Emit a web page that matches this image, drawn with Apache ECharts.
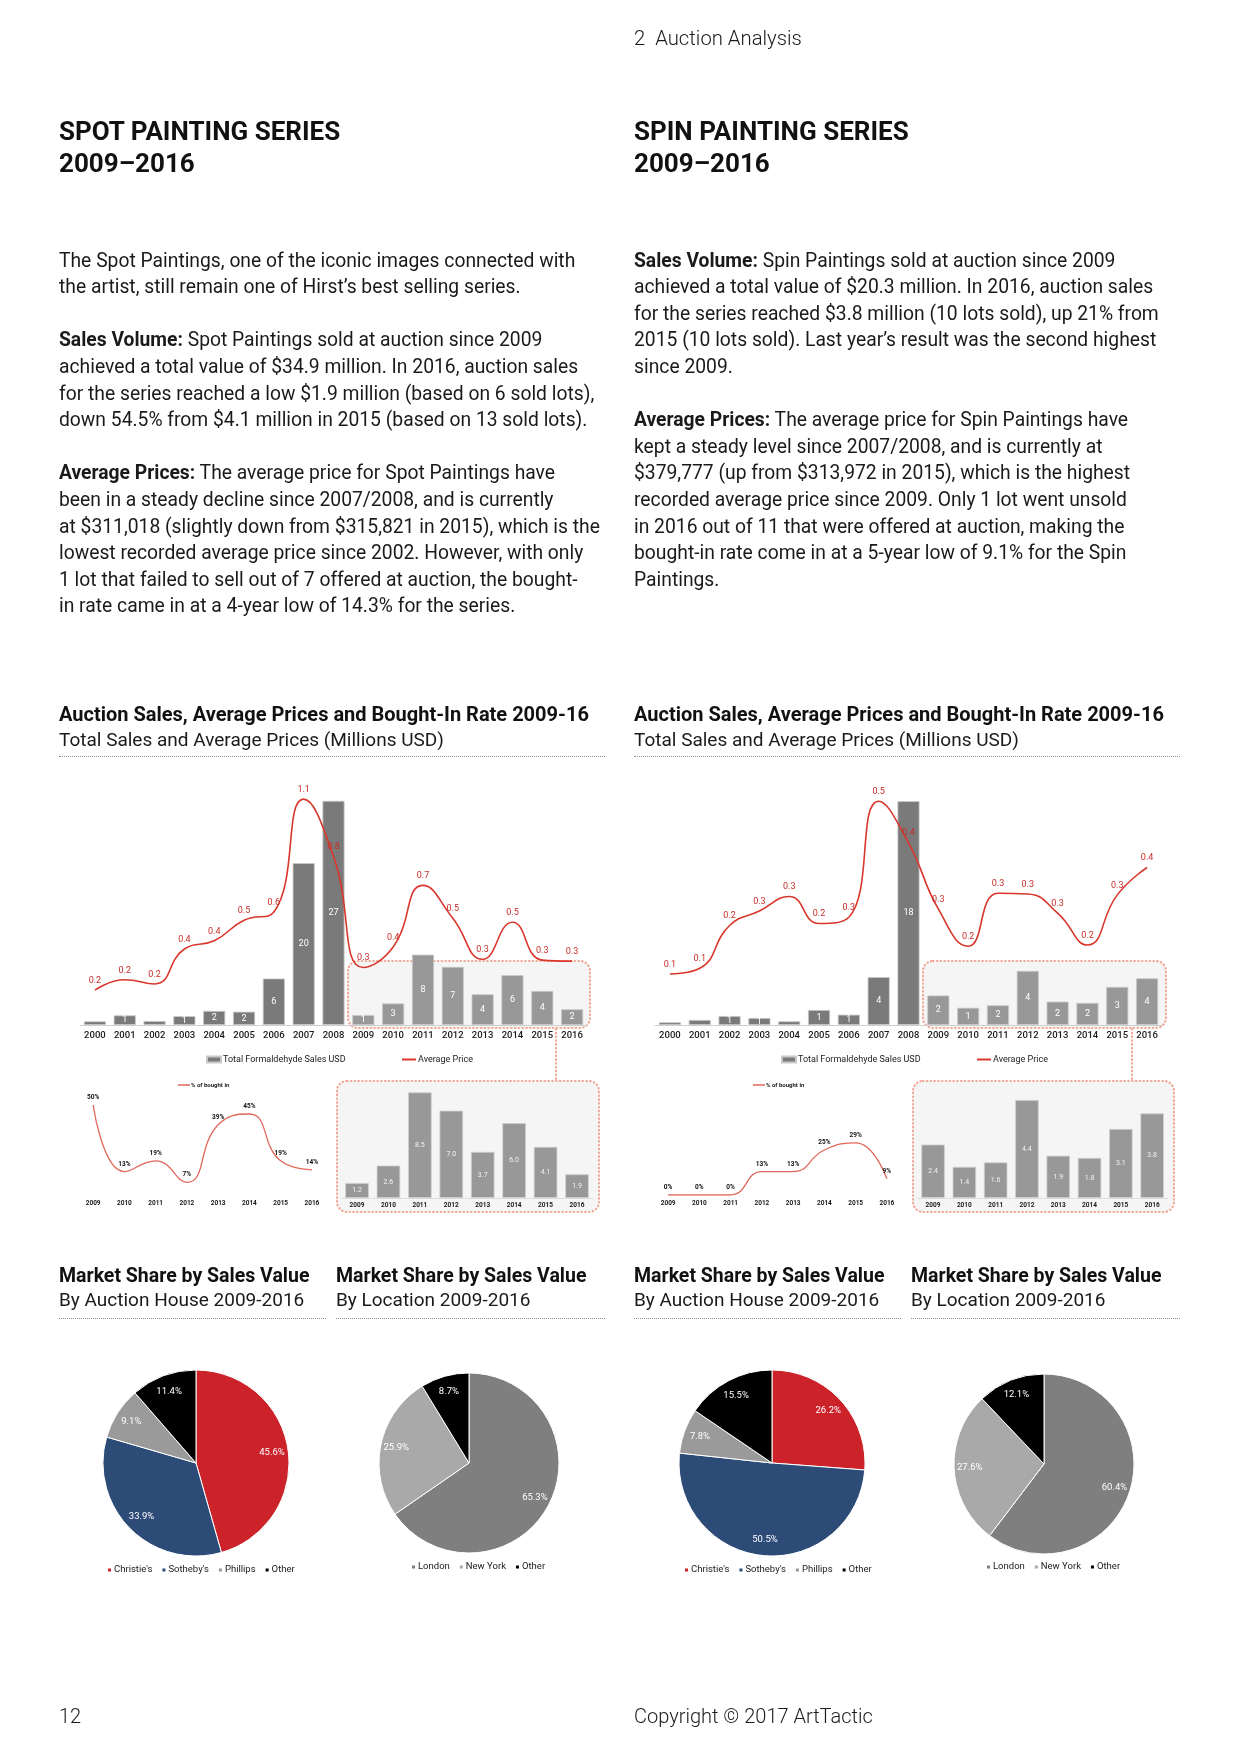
<!DOCTYPE html>
<html><head><meta charset="utf-8">
<script src="https://cdn.jsdelivr.net/npm/echarts@6/dist/echarts.min.js"></script>
<style>
html,body{margin:0;padding:0;background:#fff;}
#page{position:relative;width:1241px;height:1754px;overflow:hidden;}
#chart{position:absolute;left:0;top:0;width:1241px;height:1754px;}
.t{position:absolute;white-space:nowrap;font-family:Roboto,'Noto Sans',sans-serif;color:#1a1a1a;z-index:5;}
.para{font-size:19.3px;line-height:26.6px;}
.para b{font-weight:700;}
.h1{font-size:26px;line-height:32px;font-weight:700;color:#111;}
.h2{font-size:20px;line-height:24px;font-weight:700;color:#111;}
.h2p{font-size:19.5px;line-height:24px;font-weight:700;color:#111;}
.h3{font-size:19px;line-height:24px;font-weight:400;}
.dot{position:absolute;height:0;border-top:1.5px dotted #8c8c8c;z-index:5;}
</style></head>
<body><div id="page">
<div id="chart"></div>
<div class="t" style="left:634px;top:26px;font-size:20.3px;line-height:24px;font-weight:300;">2&nbsp;&nbsp;Auction Analysis</div>
<div class="t h1" style="left:59px;top:115px;">SPOT PAINTING SERIES<br>2009–2016</div>
<div class="t h1" style="left:634px;top:115px;">SPIN PAINTING SERIES<br>2009–2016</div>
<div class="t para" style="left:59px;top:247.7px;">The Spot Paintings, one of the iconic images connected with<br>the artist, still remain one of Hirst’s best selling series.<br>&nbsp;<br><b>Sales Volume:</b> Spot Paintings sold at auction since 2009<br>achieved a total value of $34.9 million. In 2016, auction sales<br>for the series reached a low $1.9 million (based on 6 sold lots),<br>down 54.5% from $4.1 million in 2015 (based on 13 sold lots).<br>&nbsp;<br><b>Average Prices:</b> The average price for Spot Paintings have<br>been in a steady decline since 2007/2008, and is currently<br>at $311,018 (slightly down from $315,821 in 2015), which is the<br>lowest recorded average price since 2002. However, with only<br>1 lot that failed to sell out of 7 offered at auction, the bought-<br>in rate came in at a 4-year low of 14.3% for the series.</div>
<div class="t para" style="left:634px;top:247.7px;"><b>Sales Volume:</b> Spin Paintings sold at auction since 2009<br>achieved a total value of $20.3 million. In 2016, auction sales<br>for the series reached $3.8 million (10 lots sold), up 21% from<br>2015 (10 lots sold). Last year’s result was the second highest<br>since 2009.<br>&nbsp;<br><b>Average Prices:</b> The average price for Spin Paintings have<br>kept a steady level since 2007/2008, and is currently at<br>$379,777 (up from $313,972 in 2015), which is the highest<br>recorded average price since 2009. Only 1 lot went unsold<br>in 2016 out of 11 that were offered at auction, making the<br>bought-in rate come in at a 5-year low of 9.1% for the Spin<br>Paintings.</div>

<div class="t h2" style="left:59px;top:702px;">Auction Sales, Average Prices and Bought-In Rate 2009-16</div>
<div class="t h3" style="left:59px;top:728px;">Total Sales and Average Prices (Millions USD)</div>
<div class="dot" style="left:59px;top:756px;width:546px;"></div>
<div class="t h2" style="left:634px;top:702px;">Auction Sales, Average Prices and Bought-In Rate 2009-16</div>
<div class="t h3" style="left:634px;top:728px;">Total Sales and Average Prices (Millions USD)</div>
<div class="dot" style="left:634px;top:756px;width:546px;"></div>

<div class="t h2p" style="left:59px;top:1264px;">Market Share by Sales Value</div>
<div class="t h3" style="left:59px;top:1288px;">By Auction House 2009-2016</div>
<div class="dot" style="left:59px;top:1318px;width:267px;"></div>
<div class="t h2p" style="left:336px;top:1264px;">Market Share by Sales Value</div>
<div class="t h3" style="left:336px;top:1288px;">By Location 2009-2016</div>
<div class="dot" style="left:336px;top:1318px;width:269px;"></div>
<div class="t h2p" style="left:634px;top:1264px;">Market Share by Sales Value</div>
<div class="t h3" style="left:634px;top:1288px;">By Auction House 2009-2016</div>
<div class="dot" style="left:634px;top:1318px;width:267px;"></div>
<div class="t h2p" style="left:911px;top:1264px;">Market Share by Sales Value</div>
<div class="t h3" style="left:911px;top:1288px;">By Location 2009-2016</div>
<div class="dot" style="left:911px;top:1318px;width:269px;"></div>

<div class="t" style="left:59px;top:1704px;font-size:20px;line-height:24px;font-weight:300;">12</div>
<div class="t" style="left:634px;top:1704px;font-size:20px;line-height:24px;font-weight:300;">Copyright © 2017 ArtTactic</div>
</div>
<script>
// ---- data ----
const years = ['2000','2001','2002','2003','2004','2005','2006','2007','2008','2009','2010','2011','2012','2013','2014','2015','2016'];
const recentYears = ['2009','2010','2011','2012','2013','2014','2015','2016'];
const spotSales = [0.44,1.16,0.48,1.07,1.7,1.6,5.6,19.5,27,1.2,2.6,8.47,7.0,3.7,6.0,4.1,1.9];
const spotAvgPrice = [0.17,0.22,0.2,0.37,0.41,0.51,0.55,1.1,0.82,0.28,0.38,0.68,0.52,0.32,0.5,0.316,0.311];
const spotBoughtIn = [50,13,19,7,39,45,19,14];
const spinSales = [0.22,0.41,0.73,0.57,0.3,1.22,0.84,3.9,18.2,2.4,1.4,1.6,4.4,1.9,1.8,3.1,3.8];
const spinAvgPrice = [0.123,0.137,0.24,0.275,0.31,0.245,0.26,0.54,0.44,0.28,0.19,0.318,0.316,0.27,0.193,0.314,0.38];
const spinBoughtIn = [0,0,0,13,13,25,29,9];
const houses = ["Christie's","Sotheby's","Phillips","Other"];
const spotHouseShare = [45.6,33.9,9.1,11.4];
const spinHouseShare = [26.2,50.5,7.8,15.5];
const locations = ['London','New York','Other'];
const spotLocationShare = [65.3,25.9,8.7];
const spinLocationShare = [60.4,27.6,12.1];
const firstRecent = years.indexOf('2009');

// ---- styles ----
const FONT = 'Roboto, "Noto Sans", sans-serif';
const houseColors = ['#cc2229','#2c4b77','#9a9a9a','#000000'];
const locationColors = ['#7f7f7f','#a9a9a9','#000000'];
const RED = '#d9362c';
const BOX = '#f3a896';

const chart = echarts.init(document.getElementById('chart'), null, {renderer:'canvas'});

function comboX(gi){
  return {type:'category', gridIndex:gi, data:years, boundaryGap:true,
    axisTick:{show:false}, axisLine:{show:true, lineStyle:{color:'#d0d0d0', width:1}},
    axisLabel:{color:'#1a1a1a', fontSize:9.5, fontWeight:500, margin:6, interval:0, fontFamily:FONT}};
}
function smallX(gi, line, margin){
  return {type:'category', gridIndex:gi, data:recentYears, boundaryGap:true,
    axisTick:{show:false}, axisLine:{show:line, lineStyle:{color:'#dedede'}},
    axisLabel:{color:'#1a1a1a', fontSize:6.5, fontWeight:700, margin:margin, interval:0, fontFamily:FONT}};
}
function hiddenY(gi, max){ return {type:'value', gridIndex:gi, min:0, max:max, show:false, splitLine:{show:false}}; }

function salesBars(gi, yi, vals){
  return {type:'bar', name:'Total Formaldehyde Sales USD', xAxisIndex:gi, yAxisIndex:yi,
    data: vals.map((v,i)=> i>=firstRecent ? {value:v, itemStyle:{color:'#989898'}} : v),
    barCategoryGap:'26%', itemStyle:{color:'#7a7a7a', borderColor:'#c9c9c9', borderWidth:0.8},
    label:{show:true, position:'inside', color:'#ffffff', fontSize:9, fontFamily:FONT,
      formatter:p=> Math.round(p.value)>=1 ? String(Math.round(p.value)) : ''},
    emphasis:{disabled:true}, z:2};
}
function priceLine(gi, yi, vals){
  return {type:'line', name:'Average Price', xAxisIndex:gi, yAxisIndex:yi, data:vals, smooth:0.5,
    symbol:'circle', symbolSize:0.1, showSymbol:true, showAllSymbol:true,
    lineStyle:{color:RED, width:1.6}, itemStyle:{color:RED},
    label:{show:true, position:'top', distance:5, color:'#c62d28', fontSize:9, fontFamily:FONT,
      formatter:p=> p.value.toFixed(1)},
    emphasis:{disabled:true}, z:4};
}
function boughtLine(gi, yi, vals){
  return {type:'line', name:'% of bought in', xAxisIndex:gi, yAxisIndex:yi, data:vals, smooth:0.5,
    symbol:'circle', symbolSize:0.1, showSymbol:true, showAllSymbol:true,
    lineStyle:{color:'#e0675a', width:1.3}, itemStyle:{color:'#e0675a'},
    label:{show:true, position:'top', distance:4, color:'#111', fontSize:6.5, fontWeight:700, fontFamily:FONT,
      formatter:p=> p.value + '%'},
    emphasis:{disabled:true}, z:4};
}
function recentBars(gi, yi, vals){
  return {type:'bar', name:'Sales 2009-2016', xAxisIndex:gi, yAxisIndex:yi, data:vals,
    barCategoryGap:'25%', itemStyle:{color:'#989898', borderColor:'#cfcfcf', borderWidth:0.8},
    label:{show:true, position:'inside', color:'#f2f2f2', fontSize:7, fontFamily:FONT,
      formatter:p=> p.value.toFixed(1)},
    emphasis:{disabled:true}, z:2};
}
function pieLayout(cx, cy, k){
  return function(p){
    const r = p.labelRect; const lx = r.x + r.width/2, ly = r.y + r.height/2;
    return {x: cx + (lx-cx)*k, y: cy + (ly-cy)*k};
  };
}
function pie(name, cx, cy, r, names, vals, colors){
  return {type:'pie', name:name, center:[cx,cy], radius:[0,r], startAngle:90, clockwise:true,
    avoidLabelOverlap:false, silent:true,
    data: names.map((n,i)=>({name:n, value:vals[i], itemStyle:{color:colors[i]}})),
    itemStyle:{borderColor:'#ffffff', borderWidth:1},
    label:{show:true, position:'inside', color:'#ffffff', fontSize:9.5, fontFamily:FONT,
      formatter:p=> p.value.toFixed(1)+'%'},
    labelLine:{show:false}, labelLayout: pieLayout(cx, cy, 1.55), emphasis:{disabled:true}};
}
function comboLegends(x0, x1){
  return [
    {left:x0, top:1050, itemWidth:14, itemHeight:6, icon:'rect', itemGap:0,
      data:[{name:'Total Formaldehyde Sales USD', itemStyle:{color:'#7a7a7a'}}],
      textStyle:{fontSize:9, color:'#1a1a1a', fontFamily:FONT, padding:[0,0,0,-3]}, selectedMode:false},
    {left:x1, top:1050, itemWidth:14, itemHeight:2, icon:'rect', itemGap:0,
      data:[{name:'Average Price', itemStyle:{color:RED}}],
      textStyle:{fontSize:9, color:'#1a1a1a', fontFamily:FONT, padding:[0,0,0,-3]}, selectedMode:false}
  ];
}
function boughtLegend(x){
  return {left:x, top:1077, itemWidth:12, itemHeight:1.5, icon:'rect',
    data:[{name:'% of bought in', itemStyle:{color:'#e0675a'}}],
    textStyle:{fontSize:6, fontWeight:700, color:'#1a1a1a', fontFamily:FONT, padding:[0,0,0,-4]}, selectedMode:false};
}
function pieLegend(x, y, names){
  return {left:x, top:y, itemWidth:5, itemHeight:5, icon:'rect', itemGap:8, data:names,
    textStyle:{fontSize:9.5, color:'#1a1a1a', fontFamily:FONT, padding:[0,0,0,-3]}, selectedMode:false};
}
function box(x, y, w, h){
  return {type:'rect', z:0, silent:true, shape:{x:x, y:y, width:w, height:h, r:10},
    style:{fill:'#f5f5f5', stroke:BOX, lineWidth:2.2, lineDash:[0.5,3.3], lineCap:'round'}};
}
function connector(x, y1, y2){
  return {type:'line', z:0, silent:true, shape:{x1:x, y1:y1, x2:x, y2:y2},
    style:{stroke:BOX, lineWidth:2.2, lineDash:[0.5,3.3], lineCap:'round'}};
}

const option = {
  animation:false,
  textStyle:{fontFamily:FONT},
  grid:[
    {left:80, top:795, width:507, height:230},
    {left:655, top:795, width:507, height:230},
    {left:77.5, top:1087, width:250, height:108},
    {left:652.5, top:1087, width:250, height:108},
    {left:341.3, top:1090, width:251.4, height:108},
    {left:917.4, top:1090, width:250.4, height:108}
  ],
  xAxis:[comboX(0), comboX(1), smallX(2,false,5), smallX(3,false,5), smallX(4,true,4), smallX(5,true,4)],
  yAxis:[hiddenY(0,27.7), hiddenY(0,1.12), hiddenY(1,18.7), hiddenY(1,0.555),
         hiddenY(2,60), hiddenY(3,60), hiddenY(4,8.66), hiddenY(5,4.85)],
  legend:[].concat(comboLegends(201,397), comboLegends(776,972),
    [boughtLegend(173), boughtLegend(748),
     pieLegend(101,1560,houses), pieLegend(405,1557,locations),
     pieLegend(678,1560,houses), pieLegend(980,1557,locations)]),
  graphic:{elements:[
    box(348,961,242,67), box(923,961,243,67),
    box(337,1081,262,131), box(913,1081,261,131),
    connector(556,1029,1080), connector(1132,1029,1080)
  ]},
  series:[
    salesBars(0,0,spotSales), priceLine(0,1,spotAvgPrice),
    salesBars(1,2,spinSales), priceLine(1,3,spinAvgPrice),
    boughtLine(2,4,spotBoughtIn), boughtLine(3,5,spinBoughtIn),
    recentBars(4,6,spotSales.slice(firstRecent)), recentBars(5,7,spinSales.slice(firstRecent)),
    pie('Spot by Auction House',196,1463,93,houses,spotHouseShare,houseColors),
    pie('Spot by Location',469,1463,90,locations,spotLocationShare,locationColors),
    pie('Spin by Auction House',772,1463,93,houses,spinHouseShare,houseColors),
    pie('Spin by Location',1044,1464,90,locations,spinLocationShare,locationColors)
  ]
};
chart.setOption(option);
</script>
</body></html>
